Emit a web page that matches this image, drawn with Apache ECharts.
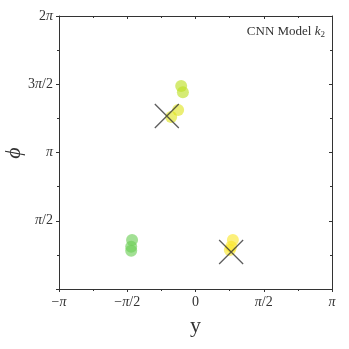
<!DOCTYPE html>
<html><head><meta charset="utf-8">
<script src="https://cdn.jsdelivr.net/npm/echarts@6/dist/echarts.min.js"></script>
<style>html,body{margin:0;padding:0;background:#fff}#c{width:349px;height:349px}</style>
</head><body><div id="c"></div>
<script>
const PI = Math.PI;
// [y (x-axis), phi (y-axis)]
const greenPts = [[-1.46, 1.13], [-1.48, 0.97], [-1.48, 0.88]];
const yellowGreenPts = [[-0.33, 4.67], [-0.29, 4.53]];
const yellowTopPts = [[-0.40, 4.12], [-0.56, 3.96]];
const yellowRightPts = [[0.86, 1.13], [0.82, 0.97], [0.79, 0.90]];
const crossPts = [[-0.66, 3.98], [0.82, 0.85]];
const xTickLabels = {'-4': '−{i|π}', '-2': '−{i|π}/2', '0': '0', '2': '{i|π}/2', '4': '{i|π}'};
const yTickLabels = {'0': '', '2': '{i|π}/2', '4': '{i|π}', '6': '3{i|π}/2', '8': '2{i|π}'};
const titleText = 'CNN Model ';
const yAxisName = 'ϕ';

const FONT = 'Liberation Serif';
function key(v){ return String(Math.round(v / (PI/4))); }
const chart = echarts.init(document.getElementById('c'), null, {renderer:'canvas'});
const labelRich = {i:{fontFamily:FONT, fontStyle:'italic', fontSize:14, color:'#333'}};
const axisCommon = {
  type:'value', interval: PI/2,
  axisLine:{show:true, onZero:false, lineStyle:{color:'#333', width:1}},
  axisTick:{show:true, length:3, lineStyle:{color:'#333'}},
  minorTick:{show:true, splitNumber:2, length:2, lineStyle:{color:'#333'}},
  splitLine:{show:false},
};
chart.setOption({
  animation:false,
  backgroundColor:'#fff',
  grid:{left:59, right:17, top:16, bottom:60, containLabel:false, outerBoundsMode:'none'},
  xAxis:[
    Object.assign({}, axisCommon, {min:-PI, max:PI, position:'bottom',
      name:'y', nameLocation:'middle', nameGap:26,
      nameTextStyle:{fontFamily:FONT, fontSize:22, color:'#333'},
      axisLabel:{fontFamily:FONT, fontSize:14, color:'#333', margin:6, rich:labelRich,
        formatter:v => xTickLabels[key(v)] ?? ''}}),
    Object.assign({}, axisCommon, {min:-PI, max:PI, position:'top',
      axisTick:{show:true, inside:true, length:3, lineStyle:{color:'#333'}},
      minorTick:{show:true, splitNumber:2, length:2, lineStyle:{color:'#333'}},
      axisLabel:{show:false}})
  ],
  yAxis:[
    Object.assign({}, axisCommon, {min:0, max:2*PI, position:'left',
      axisLabel:{fontFamily:FONT, fontSize:14, color:'#333', margin:6, rich:labelRich,
        formatter:v => yTickLabels[key(v)] ?? ''}}),
    Object.assign({}, axisCommon, {min:0, max:2*PI, position:'right',
      axisTick:{show:true, inside:true, length:3, lineStyle:{color:'#333'}},
      minorTick:{show:true, splitNumber:2, length:2, lineStyle:{color:'#333'}},
      axisLabel:{show:false}})
  ],
  graphic:[{
    type:'text', right:24, top:25,
    style:{
      rich:{
        a:{fontFamily:FONT, fontSize:13, fill:'#333'},
        k:{fontFamily:FONT, fontSize:13, fontStyle:'italic', fill:'#333'},
        s:{fontFamily:FONT, fontSize:9, fill:'#333', verticalAlign:'bottom', padding:[6,0,0,0]}
      },
      text:'{a|' + titleText + '}{k|k}{s|2}'
    }
  }, {
    type:'text', x:14, y:153, rotation:PI/2,
    style:{text:yAxisName, fontFamily:FONT, fontStyle:'italic', fontSize:22, fill:'#333',
      align:'center', verticalAlign:'middle'}
  }],
  series:[
    {type:'scatter', data:greenPts, symbolSize:12, itemStyle:{color:'rgba(110,206,88,0.8)'}},
    {type:'scatter', data:yellowGreenPts, symbolSize:12, itemStyle:{color:'rgba(190,223,38,0.8)'}},
    {type:'scatter', data:yellowTopPts, symbolSize:12, itemStyle:{color:'rgba(222,227,24,0.75)'}},
    {type:'scatter', data:yellowRightPts, symbolSize:12, itemStyle:{color:'rgba(250,230,35,0.75)'}},
    {type:'scatter', data:crossPts, symbol:'path://M0,0L10,10M10,0L0,10', symbolSize:24,
      itemStyle:{color:'none', borderColor:'#333', borderWidth:1.3}, z:5}
  ]
});
</script></body></html>
